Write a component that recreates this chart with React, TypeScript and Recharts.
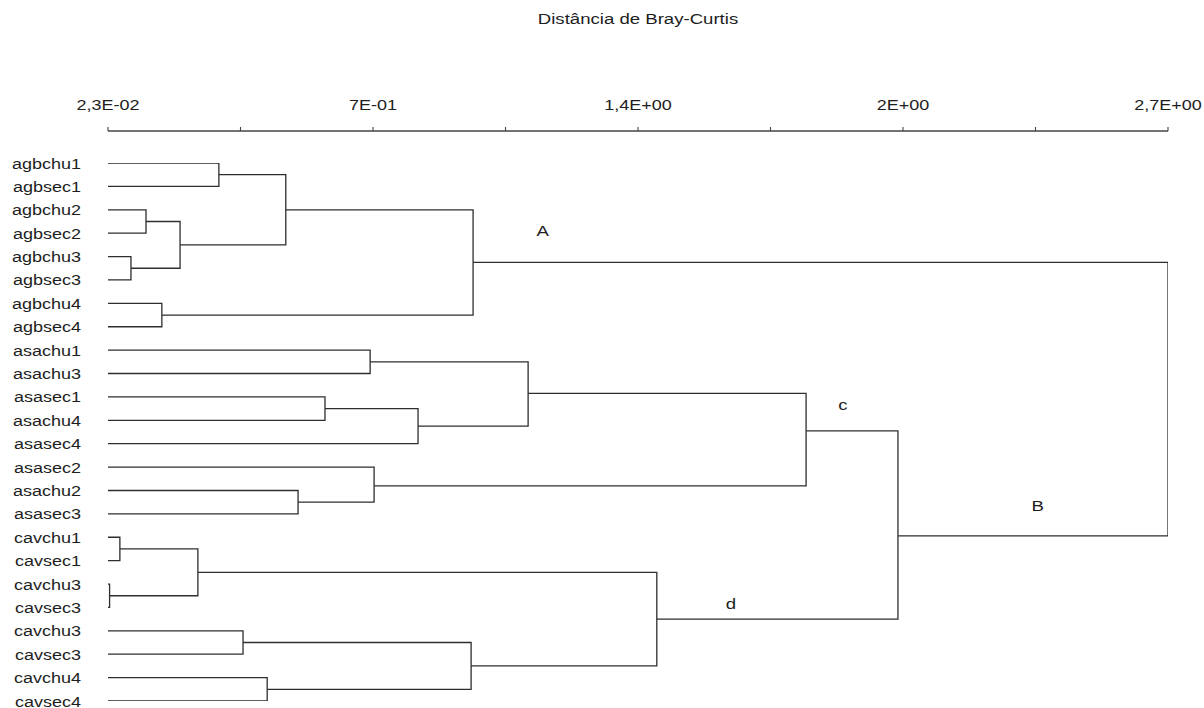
import React from "react"
import { LineChart, Line, XAxis, YAxis, ReferenceDot } from "recharts"

// leaves top to bottom (row index = position in this list)
const leafNames = [
  "agbchu1", "agbsec1", "agbchu2", "agbsec2", "agbchu3", "agbsec3", "agbchu4", "agbsec4",
  "asachu1", "asachu3", "asasec1", "asachu4", "asasec4", "asasec2", "asachu2", "asasec3",
  "cavchu1", "cavsec1", "cavchu3", "cavsec3", "cavchu3", "cavsec3", "cavchu4", "cavsec4",
]

// distance axis
const axisMin = 0.023
const axisMax = 2.7
const axisTicks = [0.023, 0.357625, 0.69225, 1.026875, 1.3615, 1.696125, 2.03075, 2.365375, 2.7]
const axisTickLabels = ["2,3E-02", "", "7E-01", "", "1,4E+00", "", "2E+00", "", "2,7E+00"]

// merges: children are leaf rows (number) or cluster ids (string)
type Ref = number | string
const merges: { id: string; a: Ref; b: Ref; dist: number; row: number }[] = [
  { id: "n1", a: 0, b: 1, dist: 0.303, row: 0.5 },
  { id: "n2", a: 2, b: 3, dist: 0.119, row: 2.5 },
  { id: "n3", a: 4, b: 5, dist: 0.081, row: 4.5 },
  { id: "n4", a: "n2", b: "n3", dist: 0.205, row: 3.5 },
  { id: "n5", a: "n1", b: "n4", dist: 0.472, row: 2 },
  { id: "n6", a: 6, b: 7, dist: 0.159, row: 6.5 },
  { id: "A", a: "n5", b: "n6", dist: 0.945, row: 4.25 },
  { id: "n8", a: 8, b: 9, dist: 0.685, row: 8.5 },
  { id: "n9", a: 10, b: 11, dist: 0.571, row: 10.5 },
  { id: "n10", a: "n9", b: 12, dist: 0.806, row: 11.25 },
  { id: "n11", a: "n8", b: "n10", dist: 1.084, row: 9.85 },
  { id: "n12", a: 14, b: 15, dist: 0.503, row: 14.5 },
  { id: "n13", a: 13, b: "n12", dist: 0.695, row: 13.8 },
  { id: "c", a: "n11", b: "n13", dist: 1.786, row: 11.45 },
  { id: "n15", a: 16, b: 17, dist: 0.053, row: 16.5 },
  { id: "n16", a: 18, b: 19, dist: 0.027, row: 18.5 },
  { id: "n17", a: "n15", b: "n16", dist: 0.25, row: 17.5 },
  { id: "n18", a: 20, b: 21, dist: 0.364, row: 20.5 },
  { id: "n19", a: 22, b: 23, dist: 0.425, row: 22.5 },
  { id: "n20", a: "n18", b: "n19", dist: 0.94, row: 21.5 },
  { id: "d", a: "n17", b: "n20", dist: 1.409, row: 19.5 },
  { id: "B", a: "c", b: "d", dist: 2.018, row: 15.94 },
  { id: "root", a: "A", b: "B", dist: 2.7, row: 10 },
]

// group letters beside the branches
const groupLabels = [
  { text: "A", dist: 1.121, row: 2.9 },
  { text: "c", dist: 1.879, row: 10.34 },
  { text: "d", dist: 1.596, row: 18.85 },
  { text: "B", dist: 2.371, row: 14.66 },
]

const FONT = "'Liberation Sans', Arial, sans-serif"
const SX = 1.2
const INK = "#2e2e2e"

function pos(r: Ref) {
  if (typeof r === "number") return { x: axisMin, y: r }
  const m = merges.find((n) => n.id === r)!
  return { x: m.dist, y: m.row }
}

const links = merges.map((m) => {
  const p = pos(m.a)
  const q = pos(m.b)
  return {
    id: m.id,
    data: [
      { x: p.x, y: p.y },
      { x: m.dist, y: p.y },
      { x: m.dist, y: q.y },
      { x: q.x, y: q.y },
    ],
  }
})

function StretchText({ x, y, anchor, size = 15, dy = 0, children }: any) {
  return (
    <g transform={`translate(${x},${y}) scale(${SX},1)`}>
      <text textAnchor={anchor} dy={dy} fontSize={size} fontFamily={FONT} fill="#1e1e1e">
        {children}
      </text>
    </g>
  )
}

function LeafTick({ x, y, payload }: any) {
  return (
    <StretchText x={x} y={y} anchor="end" dy={5.5}>
      {leafNames[payload.value]}
    </StretchText>
  )
}

function DistTick({ x, y, payload, index }: any) {
  const i = axisTicks.indexOf(payload.value)
  const label = axisTickLabels[i >= 0 ? i : index]
  if (!label) return null
  return (
    <StretchText x={x} y={y} anchor="middle">
      {label}
    </StretchText>
  )
}

function TitleLabel({ viewBox }: any) {
  const cx = viewBox.x + viewBox.width / 2
  return (
    <StretchText x={cx} y={24} anchor="middle" size={15.5}>
      Distância de Bray-Curtis
    </StretchText>
  )
}

export default function App() {
  return (
    <div style={{ position: "absolute", left: 0, top: 0, width: 1204, height: 708, background: "#fff" }}>
      <LineChart width={1204} height={708} margin={{ top: 100, right: 36, bottom: 7, left: 0 }}>
        <XAxis
          xAxisId={0}
          type="number"
          dataKey="x"
          orientation="top"
          domain={[axisMin, axisMax]}
          ticks={axisTicks}
          interval={0}
          height={31}
          tickSize={4}
          tickMargin={17}
          stroke="#444"
          axisLine={{ stroke: "#444", strokeWidth: 1.4 }}
          tickLine={{ stroke: "#444", strokeWidth: 1.1 }}
          tick={<DistTick />}
          label={<TitleLabel />}
          allowDataOverflow
        />
        <YAxis
          yAxisId={0}
          type="number"
          domain={[0, 23]}
          reversed
          ticks={leafNames.map((_, i) => i)}
          interval={0}
          width={108}
          padding={{ top: 32, bottom: 0 }}
          axisLine={false}
          tickLine={false}
          tickSize={0}
          tickMargin={27}
          tick={<LeafTick />}
          allowDataOverflow
        />
        {links.map((l) => (
          <Line
            key={l.id}
            data={l.data}
            dataKey="y"
            type="linear"
            stroke={INK}
            strokeWidth={1.3}
            dot={false}
            activeDot={false}
            isAnimationActive={false}
          />
        ))}
        {groupLabels.map((g) => (
          <ReferenceDot
            key={g.text}
            x={g.dist}
            y={g.row}
            r={0}
            ifOverflow="visible"
            shape={(p: any) => (
              <StretchText x={p.cx} y={p.cy} anchor="middle" dy={5.5} size={15.5}>
                {g.text}
              </StretchText>
            )}
          />
        ))}
      </LineChart>
    </div>
  )
}
